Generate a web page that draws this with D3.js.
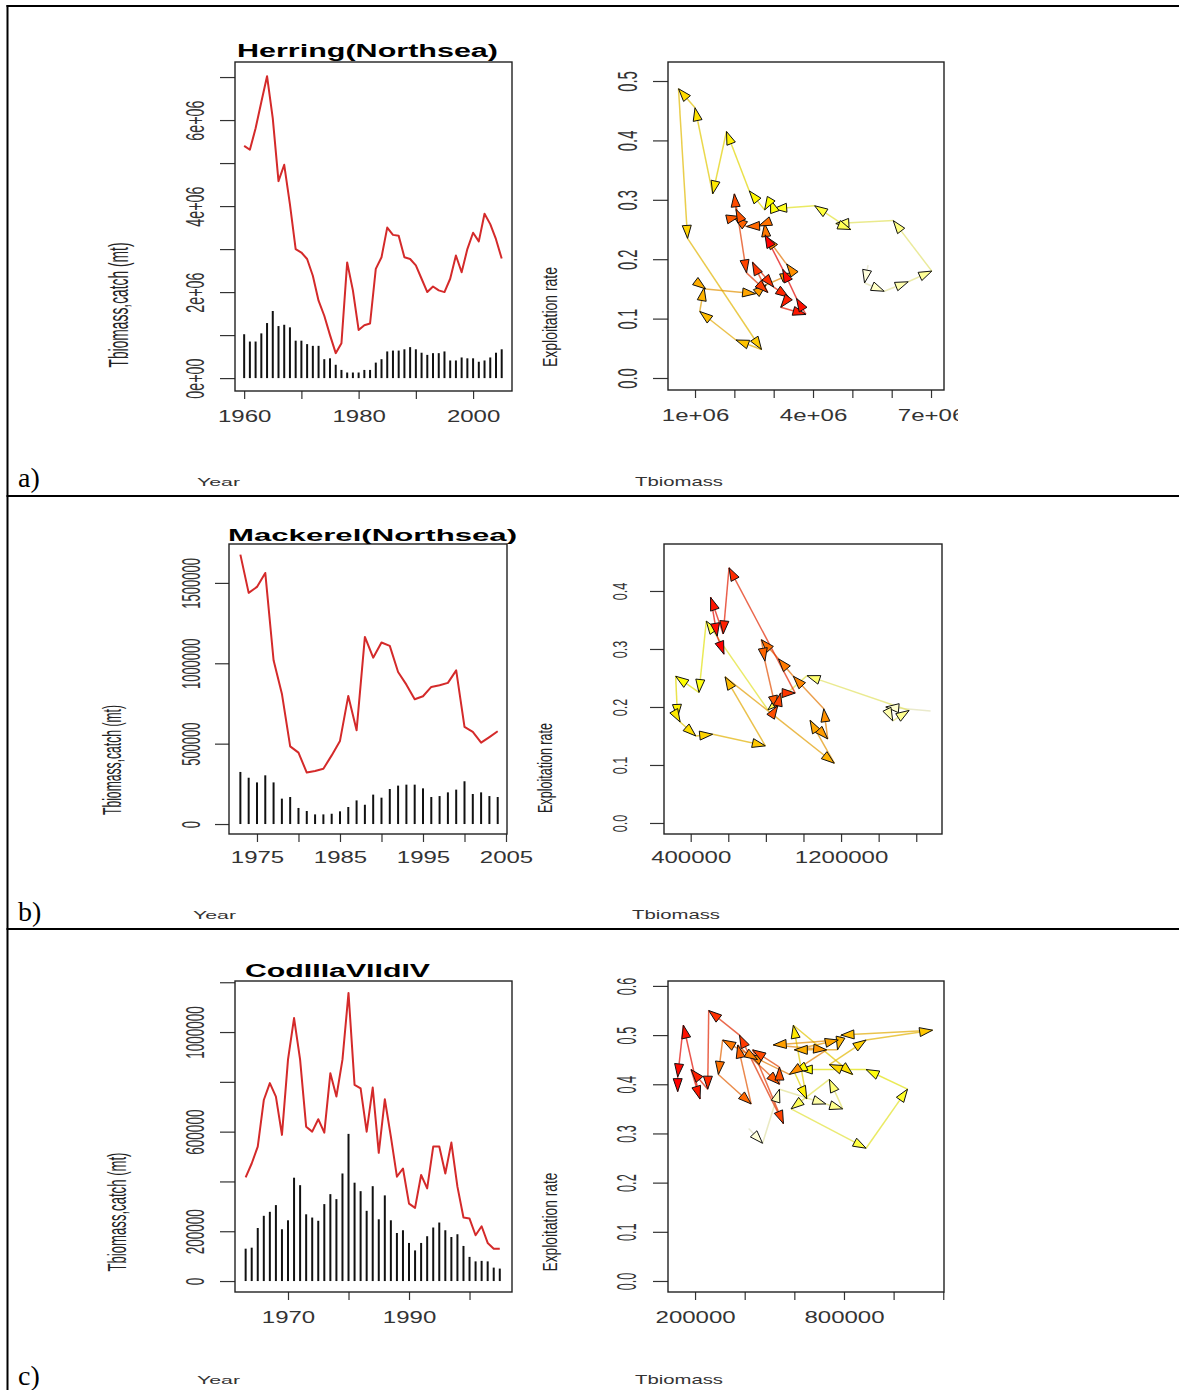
<!DOCTYPE html>
<html>
<head>
<meta charset="utf-8">
<script src="https://cdn.jsdelivr.net/npm/d3@7"></script>
<style>
  body { margin: 0; background: #fff; }
</style>
</head>
<body>
<div id="chart"></div>
<script>
// ---- Herring (North Sea), 1960-2005 ----
var herringYears = d3.range(1960, 2006);
var herringBiomass = [5.40e6, 5.31e6, 5.81e6, 6.42e6, 7.02e6, 6.04e6, 4.58e6, 4.96e6, 4.04e6, 3.00e6,
  2.92e6, 2.77e6, 2.38e6, 1.80e6, 1.45e6, 1.00e6, 0.58e6, 0.81e6, 2.69e6, 2.04e6,
  1.12e6, 1.23e6, 1.27e6, 2.54e6, 2.81e6, 3.50e6, 3.33e6, 3.31e6, 2.81e6, 2.77e6,
  2.62e6, 2.31e6, 2.00e6, 2.13e6, 2.04e6, 2.00e6, 2.31e6, 2.85e6, 2.46e6, 3.00e6,
  3.38e6, 3.18e6, 3.82e6, 3.58e6, 3.23e6, 2.78e6];
var herringCatch = [1.02e6, 0.85e6, 0.85e6, 1.04e6, 1.28e6, 1.56e6, 1.21e6, 1.24e6, 1.18e6, 0.87e6,
  0.87e6, 0.79e6, 0.75e6, 0.75e6, 0.44e6, 0.46e6, 0.31e6, 0.19e6, 0.13e6, 0.13e6,
  0.13e6, 0.19e6, 0.19e6, 0.36e6, 0.44e6, 0.62e6, 0.64e6, 0.64e6, 0.67e6, 0.72e6,
  0.67e6, 0.59e6, 0.54e6, 0.58e6, 0.58e6, 0.62e6, 0.41e6, 0.41e6, 0.48e6, 0.46e6,
  0.46e6, 0.38e6, 0.41e6, 0.48e6, 0.59e6, 0.67e6];
var herringRate = [0.190, 0.160, 0.146, 0.162, 0.180, 0.265, 0.260, 0.250, 0.290, 0.285,
  0.300, 0.283, 0.315, 0.415, 0.310, 0.455, 0.487, 0.235, 0.048, 0.064,
  0.112, 0.152, 0.150, 0.142, 0.157, 0.177, 0.192, 0.193, 0.238, 0.260,
  0.256, 0.255, 0.270, 0.272, 0.284, 0.310, 0.177, 0.144, 0.195, 0.153,
  0.136, 0.119, 0.107, 0.134, 0.183, 0.241];
var herringYearTicks = [1960, 1970, 1980, 1990, 2000];
var herringYearLabels = ["1960", "", "1980", "", "2000"];
var herringStockTicks = [0, 1e6, 2e6, 3e6, 4e6, 5e6, 6e6, 7e6];
var herringStockLabels = ["0e+00", "", "2e+06", "", "4e+06", "", "6e+06", ""];
var herringBioTicks = [1e6, 2e6, 3e6, 4e6, 5e6, 6e6, 7e6];
var herringBioLabels = ["1e+06", "", "", "4e+06", "", "", "7e+06"];
var herringRateTicks = [0, 0.1, 0.2, 0.3, 0.4, 0.5];
var herringRateLabels = ["0.0", "0.1", "0.2", "0.3", "0.4", "0.5"];

// ---- Mackerel (North Sea), 1973-2004 ----
var mackerelYears = d3.range(1973, 2005);
var mackerelBiomass = [1676e3, 1438e3, 1475e3, 1562e3, 1019e3, 811e3, 483e3, 444e3, 320e3, 330e3,
  344e3, 427e3, 517e3, 797e3, 583e3, 1164e3, 1035e3, 1129e3, 1108e3, 946e3,
  867e3, 776e3, 795e3, 853e3, 863e3, 878e3, 956e3, 604e3, 573e3, 506e3,
  541e3, 577e3];
var mackerelCatch = [324e3, 288e3, 259e3, 303e3, 259e3, 158e3, 168e3, 100e3, 81e3, 60e3,
  60e3, 64e3, 79e3, 106e3, 147e3, 120e3, 183e3, 164e3, 218e3, 239e3,
  245e3, 245e3, 222e3, 168e3, 174e3, 197e3, 214e3, 266e3, 187e3, 197e3,
  174e3, 168e3];
var mackerelRate = [0.193, 0.200, 0.176, 0.194, 0.254, 0.195, 0.348, 0.225, 0.253, 0.182,
  0.174, 0.150, 0.153, 0.133, 0.252, 0.103, 0.177, 0.145, 0.197, 0.253,
  0.283, 0.316, 0.279, 0.197, 0.202, 0.224, 0.224, 0.440, 0.326, 0.389,
  0.322, 0.291];
var mackerelYearTicks = [1975, 1980, 1985, 1990, 1995, 2000, 2005];
var mackerelYearLabels = ["1975", "", "1985", "", "1995", "", "2005"];
var mackerelStockTicks = [0, 500000, 1000000, 1500000];
var mackerelStockLabels = ["0", "500000", "1000000", "1500000"];
var mackerelBioTicks = [400000, 600000, 800000, 1000000, 1200000, 1400000, 1600000];
var mackerelBioLabels = ["400000", "", "", "", "1200000", "", ""];
var mackerelRateTicks = [0, 0.1, 0.2, 0.3, 0.4];
var mackerelRateLabels = ["0.0", "0.1", "0.2", "0.3", "0.4"];

// ---- Cod IIIa VIId IV, 1963-2005 ----
var codYears = d3.range(1963, 2006);
var codBiomass = [416e3, 472e3, 540e3, 727e3, 795e3, 741e3, 587e3, 889e3, 1056e3, 889e3,
  620e3, 600e3, 650e3, 596e3, 835e3, 741e3, 889e3, 1157e3, 788e3, 774e3,
  600e3, 777e3, 515e3, 730e3, 580e3, 419e3, 452e3, 311e3, 294e3, 426e3,
  372e3, 540e3, 540e3, 432e3, 556e3, 379e3, 255e3, 251e3, 184e3, 220e3,
  153e3, 130e3, 130e3];
var codCatch = [130e3, 134e3, 213e3, 262e3, 278e3, 305e3, 208e3, 244e3, 415e3, 385e3,
  268e3, 255e3, 242e3, 309e3, 349e3, 329e3, 432e3, 591e3, 395e3, 361e3,
  282e3, 381e3, 248e3, 344e3, 244e3, 193e3, 204e3, 153e3, 123e3, 153e3,
  180e3, 215e3, 235e3, 204e3, 177e3, 188e3, 141e3, 97e3, 79e3, 81e3,
  79e3, 54e3, 50e3];
var codRate = [0.310, 0.280, 0.390, 0.360, 0.350, 0.410, 0.350, 0.270, 0.390, 0.430,
  0.430, 0.425, 0.370, 0.520, 0.420, 0.440, 0.490, 0.510, 0.500, 0.470,
  0.470, 0.490, 0.480, 0.470, 0.420, 0.460, 0.450, 0.490, 0.420, 0.360,
  0.480, 0.400, 0.435, 0.470, 0.320, 0.500, 0.550, 0.390, 0.430, 0.370,
  0.520, 0.415, 0.385];
var codYearTicks = [1970, 1980, 1990, 2000];
var codYearLabels = ["1970", "", "1990", ""];
var codStockTicks = [0, 200000, 400000, 600000, 800000, 1000000, 1200000];
var codStockLabels = ["0", "200000", "", "600000", "", "1000000", ""];
var codBioTicks = [200000, 400000, 600000, 800000, 1000000, 1200000];
var codBioLabels = ["200000", "", "", "800000", "", ""];
var codRateTicks = [0, 0.1, 0.2, 0.3, 0.4, 0.5, 0.6];
var codRateLabels = ["0.0", "0.1", "0.2", "0.3", "0.4", "0.5", "0.6"];

var svgWidth = 1179;
var svgHeight = 1390;
var sans = "'Liberation Sans', Arial, sans-serif";
var serif = "'Liberation Serif', 'Times New Roman', serif";

var svg = d3.select("#chart")
  .append("svg")
  .attr("width", svgWidth)
  .attr("height", svgHeight);

// R heat.colors(n)
function heatColors(n) {
  var j = Math.floor(n / 4), i = n - j, out = [];
  for (var k = 0; k < i; k++) {
    var h = i > 1 ? k / (i - 1) : 0;
    out.push(d3.rgb(255, Math.round(255 * h), 0).formatHex());
  }
  var s0 = 1 - 1 / (2 * j), s1 = 1 / (2 * j);
  for (var k = 0; k < j; k++) {
    var s = j > 1 ? s0 + k * (s1 - s0) / (j - 1) : s0;
    out.push(d3.rgb(255, 255, Math.round(255 * (1 - s))).formatHex());
  }
  return out;
}

// the R device was stretched: squeeze / widen text to match
function stretch(sel, f) {
  sel.each(function() {
    var t = d3.select(this);
    if (!t.text()) return;
    var L = this.getComputedTextLength();
    t.attr("textLength", L * f).attr("lengthAdjust", "spacingAndGlyphs");
  });
}

function plainText(x, y, str, size, len, opts) {
  opts = opts || {};
  var t = svg.append("text")
    .attr("x", x).attr("y", y)
    .style("font-family", opts.family || sans)
    .attr("font-size", size)
    .attr("fill", opts.fill || "#222")
    .attr("text-anchor", opts.anchor || "start")
    .text(str);
  if (opts.bold) t.attr("font-weight", "bold");
  if (len) t.attr("textLength", len).attr("lengthAdjust", "spacingAndGlyphs");
  return t;
}

function vertText(x, y, str, size, len) {
  svg.append("text")
    .attr("transform", `translate(${x},${y}) rotate(-90)`)
    .attr("text-anchor", "middle")
    .style("font-family", sans)
    .attr("font-size", size)
    .attr("fill", "#222")
    .attr("textLength", len)
    .attr("lengthAdjust", "spacingAndGlyphs")
    .text(str);
}

function drawAxes(g, p, x, y) {
  var xa = g.append("g")
    .attr("transform", `translate(0, ${p.box.y1})`)
    .call(d3.axisBottom(x).tickValues(p.xticks).tickFormat((d, i) => p.xlabels[i]).tickSize(8));
  xa.select(".domain").remove();
  xa.selectAll("line").attr("stroke", "#333").attr("stroke-width", 1.2);
  xa.selectAll("text")
    .attr("y", p.xlabGap).attr("dy", null)
    .attr("font-size", 16).attr("fill", "#333")
    .style("font-family", sans);
  stretch(xa.selectAll("text"), 1.5);

  var ya = g.append("g")
    .attr("transform", `translate(${p.box.x0}, 0)`)
    .call(d3.axisLeft(y).tickValues(p.yticks).tickFormat((d, i) => p.ylabels[i]).tickSize(p.yTickLen));
  ya.select(".domain").remove();
  ya.selectAll("line").attr("stroke", "#333").attr("stroke-width", 1.2);
  ya.selectAll("text")
    .attr("transform", "rotate(-90)")
    .attr("x", 0).attr("y", -p.ytGap).attr("dy", null)
    .attr("text-anchor", "middle")
    .attr("font-size", p.ytFont).attr("fill", "#333")
    .style("font-family", sans);
  stretch(ya.selectAll("text"), p.ytSqueeze);

  g.append("rect")
    .attr("x", p.box.x0).attr("y", p.box.y0)
    .attr("width", p.box.x1 - p.box.x0).attr("height", p.box.y1 - p.box.y0)
    .attr("fill", "none").attr("stroke", "#222").attr("stroke-width", 1.4);
}

//left panels: biomass line + catch bars
function drawTimePanel(p) {
  var x = d3.scaleLinear().domain(p.xlim).range([p.box.x0, p.box.x1]);
  var y = d3.scaleLinear().domain(p.ylim).range([p.box.y1, p.box.y0]);
  var g = svg.append("g");

  g.selectAll("line.catch")
    .data(p.years)
    .enter()
    .append("line")
    .attr("class", "catch")
    .attr("x1", d => x(d)).attr("x2", d => x(d))
    .attr("y1", y(0))
    .attr("y2", (d, i) => y(p.catch[i]))
    .attr("stroke", "#111").attr("stroke-width", 2);

  g.append("path")
    .datum(p.years)
    .attr("d", d3.line().x(d => x(d)).y((d, i) => y(p.biomass[i])))
    .attr("fill", "none")
    .attr("stroke", "#d42a2a")
    .attr("stroke-width", 2)
    .attr("stroke-linejoin", "round");

  drawAxes(g, p, x, y);
}

//right panels: biomass vs exploitation rate, arrows coloured by year
function drawPhasePanel(p) {
  var x = d3.scaleLinear().domain(p.xlim).range([p.box.x0, p.box.x1]);
  var y = d3.scaleLinear().domain(p.ylim).range([p.box.y1, p.box.y0]);
  var g = svg.append("g");
  if (p.clipRight) {
    svg.append("clipPath").attr("id", "clip-" + p.id)
      .append("rect").attr("x", 0).attr("y", 0).attr("width", p.clipRight).attr("height", svgHeight);
    g.attr("clip-path", `url(#clip-${p.id})`);
  }
  var n = p.biomass.length;
  var cols = heatColors(n).reverse();
  var segs = d3.range(n - 1).map(i => ({
    x0: x(p.biomass[i]), y0: y(p.rate[i]),
    x1: x(p.biomass[i + 1]), y1: y(p.rate[i + 1]),
    col: cols[i + 1]
  }));

  g.selectAll("line.seg")
    .data(segs)
    .enter()
    .append("line")
    .attr("class", "seg")
    .attr("x1", d => d.x0).attr("y1", d => d.y0)
    .attr("x2", d => d.x1).attr("y2", d => d.y1)
    .attr("stroke", d => d3.color(d.col).darker(0.35).formatHex())
    .attr("stroke-opacity", 0.7)
    .attr("stroke-width", 1.5);

  var L = 13, Wd = 4.5;
  g.selectAll("path.head")
    .data(segs.filter(d => Math.hypot(d.x1 - d.x0, d.y1 - d.y0) > 1))
    .enter()
    .append("path")
    .attr("class", "head")
    .attr("d", function(d) {
      var dx = d.x1 - d.x0, dy = d.y1 - d.y0, len = Math.hypot(dx, dy);
      var ux = dx / len, uy = dy / len;
      var bx = d.x1 - L * ux, by = d.y1 - L * uy;
      return `M${d.x1},${d.y1}L${bx - Wd * uy},${by + Wd * ux}L${bx + Wd * uy},${by - Wd * ux}Z`;
    })
    .attr("fill", d => d.col)
    .attr("stroke", "#111")
    .attr("stroke-width", 1);

  drawAxes(g, p, x, y);
}

var leftPanels = [
  { years: herringYears, biomass: herringBiomass, catch: herringCatch,
    box: {x0: 235, x1: 512, y0: 62, y1: 391}, xlim: [1958.4, 2006.8], ylim: [-0.30e6, 7.35e6],
    xticks: herringYearTicks, xlabels: herringYearLabels, yticks: herringStockTicks, ylabels: herringStockLabels,
    xlabGap: 31, yTickLen: 15, ytGap: 31, ytFont: 26, ytSqueeze: 0.55 },
  { years: mackerelYears, biomass: mackerelBiomass, catch: mackerelCatch,
    box: {x0: 229, x1: 507, y0: 544, y1: 834}, xlim: [1971.63, 2005.12], ylim: [-0.062e6, 1.742e6],
    xticks: mackerelYearTicks, xlabels: mackerelYearLabels, yticks: mackerelStockTicks, ylabels: mackerelStockLabels,
    xlabGap: 29, yTickLen: 14, ytGap: 29, ytFont: 25, ytSqueeze: 0.52 },
  { years: codYears, biomass: codBiomass, catch: codCatch,
    box: {x0: 235, x1: 512, y0: 981, y1: 1292}, xlim: [1961.24, 2007.02], ylim: [-0.044e6, 1.205e6],
    xticks: codYearTicks, xlabels: codYearLabels, yticks: codStockTicks, ylabels: codStockLabels,
    xlabGap: 31, yTickLen: 15, ytGap: 31, ytFont: 26, ytSqueeze: 0.52 }
];

var rightPanels = [
  { id: "a", biomass: herringBiomass, rate: herringRate, clipRight: 958,
    box: {x0: 668, x1: 944, y0: 62, y1: 390}, xlim: [0.313e6, 7.33e6], ylim: [-0.0202, 0.532],
    xticks: herringBioTicks, xlabels: herringBioLabels, yticks: herringRateTicks, ylabels: herringRateLabels,
    xlabGap: 31, yTickLen: 15, ytGap: 31, ytFont: 27, ytSqueeze: 0.55 },
  { id: "b", biomass: mackerelBiomass, rate: mackerelRate,
    box: {x0: 664, x1: 942, y0: 544, y1: 834}, xlim: [258e3, 1737e3], ylim: [-0.019, 0.481],
    xticks: mackerelBioTicks, xlabels: mackerelBioLabels, yticks: mackerelRateTicks, ylabels: mackerelRateLabels,
    xlabGap: 29, yTickLen: 14, ytGap: 37, ytFont: 21, ytSqueeze: 0.6 },
  { id: "c", biomass: codBiomass, rate: codRate,
    box: {x0: 668, x1: 944, y0: 981, y1: 1292}, xlim: [91e3, 1203e3], ylim: [-0.0224, 0.610],
    xticks: codBioTicks, xlabels: codBioLabels, yticks: codRateTicks, ylabels: codRateLabels,
    xlabGap: 31, yTickLen: 15, ytGap: 32, ytFont: 27, ytSqueeze: 0.47 }
];

leftPanels.forEach(drawTimePanel);
rightPanels.forEach(drawPhasePanel);

//titles and axis titles
plainText(367.5, 57, "Herring(Northsea)", 18, 261, {bold: true, anchor: "middle", fill: "#000"});
plainText(372.5, 541, "Mackerel(Northsea)", 17, 289, {bold: true, anchor: "middle", fill: "#000"});
plainText(337.5, 977, "CodIIIaVIIdIV", 18, 185, {bold: true, anchor: "middle", fill: "#000"});

vertText(128, 305, "Tbiomass,catch (mt)", 27, 125);
vertText(121, 760, "Tbiomass,catch (mt)", 25, 110);
vertText(126, 1212, "Tbiomass,catch (mt)", 26, 119);
vertText(557, 317, "Exploitation rate", 21, 100);
vertText(552, 768, "Exploitation rate", 21, 90);
vertText(557, 1222, "Exploitation rate", 21, 99);

[486, 919, 1384].forEach(function(yy, i) {
  plainText(i == 1 ? 193 : 197, yy, "Year", 11, 43, {fill: "#333"});
  plainText(i == 1 ? 632 : 635, yy, "Tbiomass", 13, 88, {fill: "#333"});
});

plainText(18, 487, "a)", 28, null, {family: serif, fill: "#000"});
plainText(18, 921, "b)", 28, null, {family: serif, fill: "#000"});
plainText(18, 1385, "c)", 28, null, {family: serif, fill: "#000"});

//table rules around the three rows
svg.append("line").attr("x1", 6.5).attr("x2", svgWidth).attr("y1", 6).attr("y2", 6).attr("stroke", "#000").attr("stroke-width", 2);
svg.append("line").attr("x1", 7.5).attr("x2", 7.5).attr("y1", 5).attr("y2", svgHeight).attr("stroke", "#000").attr("stroke-width", 2);
svg.append("line").attr("x1", 6.5).attr("x2", svgWidth).attr("y1", 496).attr("y2", 496).attr("stroke", "#000").attr("stroke-width", 2.2);
svg.append("line").attr("x1", 6.5).attr("x2", svgWidth).attr("y1", 929).attr("y2", 929).attr("stroke", "#000").attr("stroke-width", 2.2);
</script>
</body>
</html>
